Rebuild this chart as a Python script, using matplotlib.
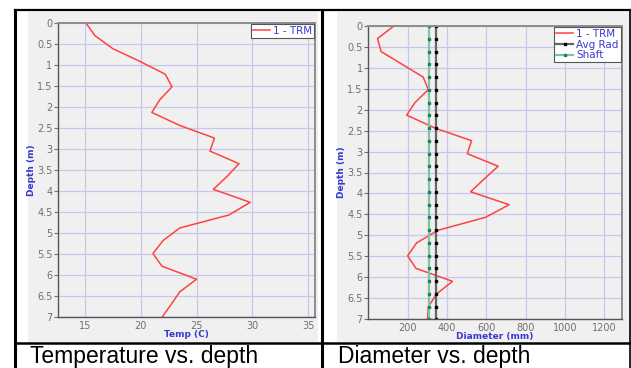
import matplotlib
matplotlib.use("Agg")
import matplotlib.pyplot as plt
from matplotlib.patches import Rectangle
from matplotlib.ticker import FuncFormatter

# depth readings every foot (m)
depth = [0.00, 0.30, 0.61, 0.91, 1.22, 1.52, 1.83, 2.13, 2.44, 2.74, 3.05, 3.35,
         3.66, 3.96, 4.27, 4.57, 4.88, 5.18, 5.49, 5.79, 6.10, 6.40, 6.71, 7.01]
temp = [15.1, 15.9, 17.5, 19.9, 22.2, 22.8, 21.7, 21.0, 23.5, 26.6, 26.2, 28.8,
        27.7, 26.5, 29.8, 27.9, 23.5, 22.0, 21.1, 21.9, 25.0, 23.5, 22.7, 21.9]
diam = [130, 47, 65, 170, 279, 305, 237, 195, 340, 525, 503, 660,
        588, 520, 716, 596, 355, 246, 200, 242, 428, 347, 305, 301]
avg_rad = [344] * len(depth)
shaft = [307] * len(depth)

temp_ticks = [15, 20, 25, 30, 35]
diam_ticks = [200, 400, 600, 800, 1000, 1200]
depth_ticks = [0, 0.5, 1, 1.5, 2, 2.5, 3, 3.5, 4, 4.5, 5, 5.5, 6, 6.5, 7]
captions = ["Temperature vs. depth", "Diameter vs. depth"]

W, H = 631, 368
RED, BLUE, GRID = "#ff4242", "#3a3ad0", "#c6c6ee"

fig = plt.figure(figsize=(W / 100, H / 100), dpi=100)

# page layer in pixel coordinates: table borders, grey chart panels, captions
bg = fig.add_axes([0, 0, 1, 1], zorder=0)
bg.set_xlim(0, W); bg.set_ylim(H, 0); bg.axis("off")
bg.add_patch(Rectangle((28, 12), 290, 330, color="#f0f0f0", lw=0))
bg.add_patch(Rectangle((337, 12), 294, 330, color="#f0f0f0", lw=0))
bg.plot([15, 630], [10, 10], color="k", lw=1.6)
bg.plot([15, 630], [342.5, 342.5], color="k", lw=1.8)
for x in (15, 322, 630):
    bg.plot([x, x], [10, H], color="k", lw=2.2 if x != 630 else 1.2)
bg.text(30, 363, captions[0], fontsize=16.5, family="Liberation Sans", va="baseline")
bg.text(338, 363, captions[1], fontsize=16.5, family="Liberation Sans", va="baseline")


def style(ax, xlim, xticks, xlabel):
    ax.set_facecolor("#f0f0f0")
    ax.set_xlim(*xlim); ax.set_ylim(7, 0)
    ax.set_xticks(xticks); ax.set_yticks(depth_ticks)
    ax.yaxis.set_major_formatter(FuncFormatter(lambda v, p: f"{v:g}"))
    ax.grid(True, color=GRID, lw=0.9)
    ax.set_axisbelow(True)
    ax.tick_params(labelsize=7, colors="#707070", length=3, width=0.8, pad=1)
    ax.tick_params(axis="x", length=0, pad=3)
    for s in ("left", "bottom"):
        ax.spines[s].set_color("#555555"); ax.spines[s].set_linewidth(1.0)
    for s in ("top", "right"):
        ax.spines[s].set_color("#8c8c8c"); ax.spines[s].set_linewidth(1.4)
    ax.set_xlabel(xlabel, fontsize=6.5, color=BLUE, fontweight="bold", labelpad=-1)
    ax.set_ylabel("Depth (m)", fontsize=6.5, color=BLUE, fontweight="bold", labelpad=1)


ax1 = fig.add_axes([58 / W, 1 - 317 / H, 257 / W, 294 / H], zorder=1)
ax1.plot(temp, depth, color=RED, lw=1.1, label="1 - TRM")
style(ax1, (12.6, 35.6), temp_ticks, "Temp (C)")

ax2 = fig.add_axes([368.3 / W, 1 - 319 / H, 253.4 / W, 293 / H], zorder=1)
ax2.plot(diam, depth, color=RED, lw=1.1, label="1 - TRM")
ax2.plot(avg_rad, depth, color="#666666", lw=1.6, marker="s", ms=1.6,
         mfc="k", mec="k", label="Avg Rad")
ax2.plot(shaft, depth, color="#7cc4a4", lw=1.6, marker="s", ms=1.6,
         mfc="#23805c", mec="#23805c", label="Shaft")
style(ax2, (0, 1288), diam_ticks, "Diameter (mm)")

for ax in (ax1, ax2):
    leg = ax.legend(loc="upper right", fontsize=7.5, frameon=True, fancybox=False,
                    borderaxespad=0.1, borderpad=0.2, handlelength=1.6,
                    handletextpad=0.3, labelspacing=0.05, framealpha=1)
    leg.get_frame().set_edgecolor("#555555")
    leg.get_frame().set_facecolor("white")
    leg.get_frame().set_linewidth(0.8)
    for t in leg.get_texts():
        t.set_color(BLUE)

fig.savefig("out.png", dpi=100)
